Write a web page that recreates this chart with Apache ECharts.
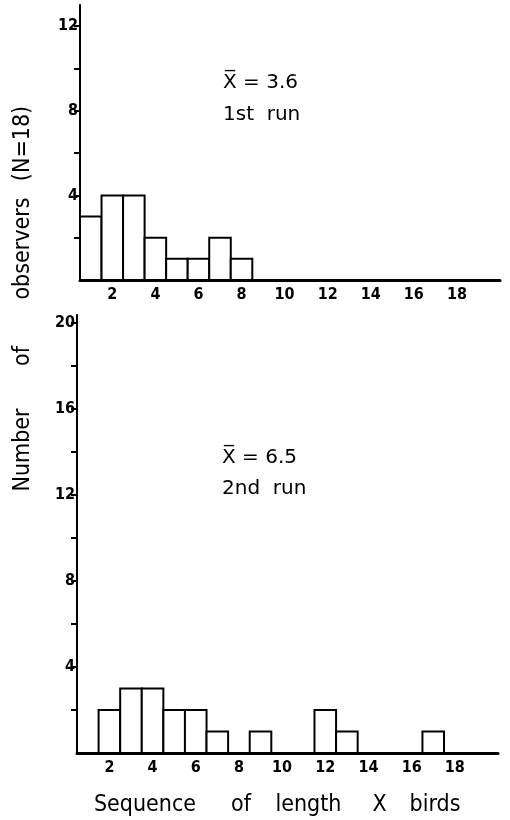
<!DOCTYPE html>
<html>
<head>
<meta charset="utf-8">
<script src="https://cdn.jsdelivr.net/npm/echarts@6/dist/echarts.min.js"></script>
<style>
html,body{margin:0;padding:0;background:#fff;}
#chart{width:510px;height:820px;}
</style>
</head>
<body>
<div id="chart"></div>
<script>
// ---- data ----
const run1Lengths = [1, 2, 3, 4, 5, 6, 7, 8];
const run1Counts  = [3, 4, 4, 2, 1, 1, 2, 1];
const run2Lengths = [2, 3, 4, 5, 6, 7, 9, 12, 13, 17];
const run2Counts  = [2, 3, 3, 2, 2, 1, 1, 2, 1, 1];
const xTickLabels = [2, 4, 6, 8, 10, 12, 14, 16, 18];
const run1YLabels = [4, 8, 12];
const run1YTicks  = [2, 4, 6, 8, 10, 12];
const run2YLabels = [4, 8, 12, 16, 20];
const run2YTicks  = [2, 4, 6, 8, 10, 12, 14, 16, 18, 20];
const run1Note = ['X\u0305 = 3.6', '1st  run'];
const run2Note = ['X\u0305 = 6.5', '2nd  run'];
const xTitleWords = ['Sequence', 'of', 'length', 'X', 'birds'];
const yTitleWords = ['Number', 'of', 'observers', '(N=18)'];

const tickFont = "'Liberation Sans Narrow', 'DejaVu Sans Condensed', 'DejaVu Sans', sans-serif";
const titleFont = "'DejaVu Sans Condensed', 'DejaVu Sans', sans-serif";

function pairs(xs, ys) { return xs.map((x, i) => [x, ys[i]]); }

function renderBar(params, api) {
  const x = api.value(0), y = api.value(1);
  const p0 = api.coord([x - 0.5, y]);
  const p1 = api.coord([x + 0.5, 0]);
  return {
    type: 'rect',
    shape: { x: p0[0], y: p0[1], width: p1[0] - p0[0], height: p1[1] - p0[1] },
    style: { fill: '#fff', stroke: '#000', lineWidth: 2 }
  };
}

function xAxisDef(gridIndex) {
  return {
    type: 'value', gridIndex, min: 0.5, max: 20,
    axisLine: { show: true, lineStyle: { color: '#000', width: 3 } },
    axisTick: { show: false },
    splitLine: { show: false },
    axisLabel: {
      customValues: xTickLabels, margin: 7, color: '#000',
      fontFamily: tickFont, fontWeight: 'bold', fontSize: 16
    }
  };
}
function yAxisDef(gridIndex, max, labels, ticks) {
  return {
    type: 'value', gridIndex, min: 0, max,
    axisLine: { show: true, lineStyle: { color: '#000', width: 2 } },
    axisTick: { show: true, customValues: ticks, length: 6, lineStyle: { color: '#000', width: 2 } },
    splitLine: { show: false },
    axisLabel: {
      customValues: labels, margin: 2, color: '#000',
      fontFamily: tickFont, fontWeight: 'bold', fontSize: 16
    }
  };
}

const xCenters = [145, 241, 308.5, 379.5, 435];
const yCenters = [450, 356, 248.5, 143.5];

const graphics = [];
xTitleWords.forEach((w, i) => graphics.push({
  type: 'text', x: xCenters[i], y: 805,
  style: { text: w, font: '23px ' + titleFont, fill: '#000', align: 'center', verticalAlign: 'middle' }
}));
yTitleWords.forEach((w, i) => graphics.push({
  type: 'text', x: 23, y: yCenters[i], rotation: Math.PI / 2,
  style: { text: w, font: '23px ' + titleFont, fill: '#000', align: 'center', verticalAlign: 'middle' }
}));
const noteFont = "20px 'DejaVu Sans', sans-serif";
[[run1Note, 223, 83, 115], [run2Note, 222, 458, 489]].forEach(([txt, x, y1, y2]) => {
  graphics.push({ type: 'text', x, y: y1, style: { text: txt[0], font: noteFont, fill: '#000', align: 'left', verticalAlign: 'middle' } });
  graphics.push({ type: 'text', x, y: y2, style: { text: txt[1], font: noteFont, fill: '#000', align: 'left', verticalAlign: 'middle' } });
});

const chart = echarts.init(document.getElementById('chart'), null, { renderer: 'canvas' });
chart.setOption({
  animation: false,
  backgroundColor: '#fff',
  grid: [
    { left: 80, top: 5, width: 420, height: 275 },
    { left: 77, top: 315, width: 421, height: 438 }
  ],
  xAxis: [xAxisDef(0), xAxisDef(1)],
  yAxis: [
    yAxisDef(0, 13, run1YLabels, run1YTicks),
    yAxisDef(1, 20.35, run2YLabels, run2YTicks)
  ],
  series: [
    { type: 'custom', xAxisIndex: 0, yAxisIndex: 0, renderItem: renderBar, encode: { x: 0, y: 1 }, data: pairs(run1Lengths, run1Counts) },
    { type: 'custom', xAxisIndex: 1, yAxisIndex: 1, renderItem: renderBar, encode: { x: 0, y: 1 }, data: pairs(run2Lengths, run2Counts) }
  ],
  graphic: graphics
});
</script>
</body>
</html>
